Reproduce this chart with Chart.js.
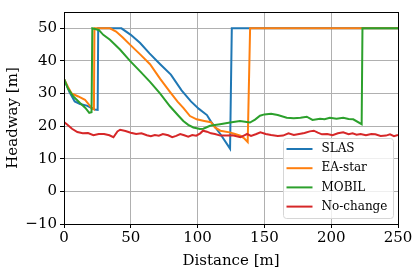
<!DOCTYPE html>
<html>
<head>
<meta charset="utf-8">
<script src="https://cdn.jsdelivr.net/npm/chart.js@4"></script>
<style>
  html, body { margin: 0; padding: 0; background: #fff; }
  #wrap { width: 420px; height: 270px; }
</style>
</head>
<body>
<div id="wrap"><canvas id="chart" width="420" height="270"></canvas></div>
<script>
// values
const seriesNames = ["SLAS", "EA-star", "MOBIL", "No-change"];
const seriesColors = ["#1f77b4", "#ff7f0e", "#2ca02c", "#d62728"];

const slasX = [0, 4, 8, 12, 17, 23, 25.2, 25.6, 43, 50, 57, 64, 72, 80, 88, 95, 101, 107, 110, 117, 124.3, 125.6, 250];
const slasY = [34.5, 30.5, 27.6, 26.8, 26.3, 25.1, 25, 50, 50, 48, 45.5, 42.3, 39, 35.8, 31, 27.6, 25.3, 23.4, 21.4, 17.6, 13.1, 50, 50];

const eaX = [0, 3, 5.7, 10.7, 15.7, 20.7, 22.4, 22.8, 34.4, 39, 44, 49.4, 57, 64.4, 72, 79.3, 85, 89.3, 94.3, 99.3, 105, 110, 113, 117, 124, 128, 132, 135, 137.5, 139.3, 250];
const eaY = [34.5, 32, 30, 29.1, 28.1, 25.6, 25.2, 50, 50, 49, 47.2, 45, 42, 39, 34.5, 30.5, 27.5, 25.6, 23.1, 22.1, 21.6, 21.2, 19.6, 18.6, 18.1, 17.6, 17.1, 16.2, 15.1, 50, 50];

const mobilX = [0, 3, 7, 12, 16, 18.9, 20.6, 21.2, 26, 29.4, 34.4, 41.9, 49.4, 57, 64.4, 72, 79.3, 85, 89.3, 93, 96.8, 101.8, 104.3, 109.3, 116.8, 124.3, 131.7, 139.2, 143, 146.7, 150, 155, 160, 166.7, 172, 177, 181.7, 186, 191.6, 195, 199, 204, 209, 213, 216.5, 222.8, 223.4, 250];
const mobilY = [34.5, 31.5, 29.1, 27.1, 25.6, 24.1, 24.3, 50, 49.5, 48, 46.5, 43.5, 40, 36.8, 33.6, 30, 26.1, 23.5, 21.6, 20.4, 19.6, 19.1, 19.2, 20.1, 20.6, 21.1, 21.6, 21.1, 22, 23.2, 23.6, 23.8, 23.4, 22.6, 22.4, 22.6, 22.9, 21.9, 22.3, 22.1, 22.6, 22.3, 22.6, 22.2, 22.1, 20.6, 50, 50];

const noChangeX = [0, 3, 6, 10, 14, 18, 22, 26, 30, 34, 37, 40, 42, 46, 50, 54, 58, 62, 65, 68, 71, 74, 78, 81, 84, 87, 90, 93, 96, 99, 102, 104, 107, 110, 113, 117, 122, 126, 130, 132, 135, 137, 140, 144, 147, 151, 155, 160, 164, 168, 172, 176, 180, 184, 187, 190, 193, 197, 201, 205, 209, 213, 216, 219, 222, 226, 230, 233, 237, 241, 244, 247, 250];
const noChangeY = [21.3, 20.3, 19.2, 18.2, 17.8, 17.9, 17.2, 17.6, 17.6, 17.2, 16.6, 18.4, 18.9, 18.5, 18.0, 17.6, 17.8, 17.2, 16.9, 17.3, 17.1, 17.6, 17.2, 16.6, 17.0, 17.6, 17.2, 16.8, 17.3, 17.1, 17.8, 18.6, 18.3, 17.8, 17.6, 17.1, 17.1, 17.2, 16.8, 16.6, 17.2, 17.6, 17.0, 17.6, 18.1, 17.6, 17.3, 17.0, 17.1, 17.8, 17.3, 17.6, 17.9, 18.4, 18.6, 18.0, 17.5, 17.6, 17.2, 17.8, 18.1, 17.5, 17.8, 17.4, 17.6, 17.2, 17.6, 17.5, 17.0, 17.1, 17.5, 16.9, 17.3];

const xTicks = [0, 50, 100, 150, 200, 250];
const yTicks = [-10, 0, 10, 20, 30, 40, 50];

const allX = [slasX, eaX, mobilX, noChangeX];
const allY = [slasY, eaY, mobilY, noChangeY];

function toPoints(xs, ys) {
    return xs.map((x, i) => ({ x: x, y: ys[i] }));
}

const datasets = seriesNames.map((name, i) => ({
    label: name,
    data: toPoints(allX[i], allY[i]),
    borderColor: seriesColors[i],
    backgroundColor: seriesColors[i],
    borderWidth: 2,
    pointRadius: 0,
    tension: 0,
    fill: false,
    order: seriesNames.length - i
}));

Chart.defaults.font.family = "'DejaVu Serif', serif";
Chart.defaults.font.size = 15;
Chart.defaults.color = "#000";

// black box around the plot + legend inside the lower right corner
const framePlugin = {
    id: "frame",
    afterDraw(chart) {
        const ctx = chart.ctx;
        const a = chart.chartArea;
        ctx.save();
        ctx.strokeStyle = "#000";
        ctx.lineWidth = 1;
        ctx.strokeRect(Math.round(a.left) + 0.5, Math.round(a.top) + 0.5,
            Math.round(a.right - a.left), Math.round(a.bottom - a.top));

        // legend
        const w = 110, h = 80;
        const x0 = a.right - 5 - w;
        const y0 = a.bottom - 6 - h;
        ctx.beginPath();
        ctx.roundRect(x0 + 0.5, y0 + 0.5, w, h, 3);
        ctx.fillStyle = "rgba(255,255,255,0.8)";
        ctx.fill();
        ctx.strokeStyle = "#d6d6d6";
        ctx.lineWidth = 1;
        ctx.stroke();
        ctx.font = "12px 'DejaVu Serif'";
        ctx.textBaseline = "middle";
        ctx.fillStyle = "#000";
        for (let i = 0; i < seriesNames.length; i++) {
            const cy = y0 + 11 + i * 19.2;
            ctx.beginPath();
            ctx.moveTo(x0 + 3.5, cy);
            ctx.lineTo(x0 + 29.5, cy);
            ctx.strokeStyle = seriesColors[i];
            ctx.lineWidth = 2;
            ctx.stroke();
            ctx.fillText(seriesNames[i], x0 + 38.5, cy);
        }
        ctx.restore();
    }
};

new Chart(document.getElementById("chart"), {
    type: "line",
    data: { datasets: datasets },
    options: {
        responsive: false,
        animation: false,
        layout: { padding: { top: 6, right: 22, left: 0, bottom: 0 } },
        plugins: {
            legend: { display: false },
            tooltip: { enabled: false }
        },
        scales: {
            x: {
                type: "linear",
                min: 0,
                max: 250,
                afterBuildTicks: scale => { scale.ticks = xTicks.map(v => ({ value: v })); },
                afterFit: scale => { scale.height = 46; },
                grid: { color: "#b0b0b0", tickColor: "#000", tickLength: 4, lineWidth: 1 },
                border: { display: false },
                ticks: { padding: 1, maxRotation: 0 },
                title: { display: true, text: "Distance [m]", padding: { top: 0, bottom: 0 } }
            },
            y: {
                type: "linear",
                min: -10,
                max: 55,
                afterBuildTicks: scale => { scale.ticks = yTicks.map(v => ({ value: v })); },
                afterFit: scale => { scale.width = 64; },
                grid: { color: "#b0b0b0", tickColor: "#000", tickLength: 4, lineWidth: 1 },
                border: { display: false },
                ticks: {
                    padding: 3,
                    callback: v => (v < 0 ? "\u2212" + Math.abs(v) : "" + v)
                },
                title: { display: true, text: "Headway [m]", padding: { top: 4, bottom: 0 } }
            }
        }
    },
    plugins: [framePlugin]
});
</script>
</body>
</html>
